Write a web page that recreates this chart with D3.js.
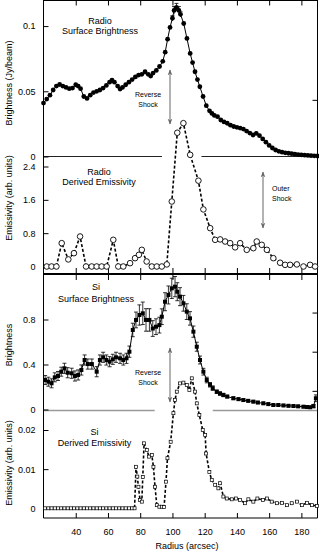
<!DOCTYPE html>
<html>
<head>
<meta charset="utf-8">
<script src="https://cdn.jsdelivr.net/npm/d3@7"></script>
<style>
  body { margin: 0; background: #fff; }
  svg { display: block; font-family: "Liberation Sans", Arial, Helvetica, sans-serif; }
  .tick text { font-size: 9px; fill: #000; }
</style>
</head>
<body>
<div id="chart"></div>
<script>
// radio surface brightness (Jy/beam)
const radioR = [20, 22, 24, 26, 28, 30, 32, 34, 36, 38, 40, 41.5, 43, 45, 47, 49, 51, 53, 55, 57, 59, 61, 62.5, 64, 66, 67.5, 69, 71, 73, 75, 77, 79, 81, 83, 85, 86.5, 88, 90, 92, 94, 95.5, 97, 98.5, 100, 101, 102.5, 104, 105, 107, 109, 111, 112.5, 114, 115.5, 117, 119, 121, 123, 124.5, 126, 128, 130, 132, 134, 136, 138, 140, 142, 144, 146, 148, 150, 152, 154, 156, 158, 160, 162, 164, 166, 168, 170, 172, 174, 176, 178, 180, 182, 184, 186, 188, 190];
const radioB = [0.041, 0.044, 0.047, 0.051, 0.054, 0.0552, 0.054, 0.053, 0.052, 0.0525, 0.055, 0.054, 0.052, 0.046, 0.0445, 0.047, 0.049, 0.050, 0.051, 0.0525, 0.0545, 0.057, 0.0586, 0.057, 0.054, 0.0517, 0.053, 0.055, 0.057, 0.059, 0.061, 0.0624, 0.063, 0.065, 0.063, 0.0617, 0.064, 0.066, 0.069, 0.073, 0.080, 0.090, 0.099, 0.106, 0.112, 0.1144, 0.112, 0.109, 0.102, 0.0905, 0.079, 0.072, 0.065, 0.059, 0.0535, 0.046, 0.039, 0.035, 0.033, 0.0315, 0.0305, 0.028, 0.0265, 0.0255, 0.024, 0.023, 0.0224, 0.0218, 0.021, 0.0195, 0.018, 0.0165, 0.0178, 0.016, 0.0135, 0.011, 0.0085, 0.0065, 0.005, 0.004, 0.0033, 0.0028, 0.0025, 0.0022, 0.0018, 0.0015, 0.0012, 0.001, 0.0008, 0.0006, 0.0005, 0.0004];
const radioErrR = [100, 101, 102.5, 104, 105];
const radioErr = [0.002, 0.003, 0.003, 0.003, 0.002];

// radio derived emissivity (arb. units)
const radioEmR = [22, 25, 28, 31.3, 35.4, 38.9, 42.7, 46.4, 49.9, 53, 56.1, 59.2, 63.3, 66.4, 69.5, 73.7, 76.8, 79.2, 81, 84, 87.2, 90.3, 93.4, 96.5, 99.6, 103, 106.8, 111, 116.1, 119.2, 123.4, 126.5, 129.6, 132.7, 135.8, 138.9, 142, 146.1, 150.2, 152.3, 155.4, 158.6, 162.6, 166.8, 169.9, 173, 177.2, 181.3, 185.4, 188.5];
const radioEm = [0, 0, 0, 0.56, 0.17, 0.32, 0.72, 0, 0, 0, 0, 0, 0.64, 0, 0, 0.08, 0.2, 0.28, 0.4, 0.12, 0, 0, 0, 0.05, 1.56, 3.21, 3.44, 2.68, 2.06, 1.37, 0.92, 0.64, 0.65, 0.6, 0.56, 0.46, 0.56, 0.4, 0.44, 0.6, 0.52, 0.4, 0.2, 0.09, 0.04, 0.04, 0.05, 0, 0.04, 0];

// Si surface brightness
const siR = [21, 23, 25, 27, 29, 31, 33, 35, 37.5, 39.5, 41.5, 43.5, 45.5, 47.5, 50, 53, 55, 57, 59, 61, 63, 65, 67.5, 69.5, 71.5, 73.3, 75.4, 77.4, 79.5, 81.6, 83.6, 85.7, 87.8, 89.8, 91.9, 93.4, 95.4, 97.5, 99.6, 101.6, 103, 104.7, 106.8, 108.9, 110.9, 113, 115.1, 117.1, 119.2, 121.3, 123.3, 125, 127.5, 129.5, 131.6, 134, 137.8, 141, 144, 147, 150.2, 153, 156.4, 159.5, 162.6, 165.7, 168.9, 172, 175.1, 178, 181.3, 183.5, 185.4, 187.5, 189];
const siB = [0.262, 0.247, 0.233, 0.286, 0.298, 0.336, 0.366, 0.327, 0.322, 0.298, 0.307, 0.351, 0.44, 0.404, 0.404, 0.336, 0.44, 0.464, 0.44, 0.425, 0.446, 0.464, 0.455, 0.44, 0.455, 0.514, 0.707, 0.796, 0.84, 0.855, 0.796, 0.796, 0.72, 0.736, 0.75, 0.825, 0.958, 1.018, 1.077, 1.092, 1.047, 1.003, 0.944, 0.87, 0.81, 0.692, 0.558, 0.44, 0.336, 0.262, 0.22, 0.19, 0.158, 0.142, 0.129, 0.115, 0.1, 0.092, 0.084, 0.077, 0.07, 0.062, 0.055, 0.048, 0.04, 0.04, 0.036, 0.033, 0.031, 0.028, 0.025, 0.022, 0.02, 0.03, 0.1];
const siErr = [0.04, 0.04, 0.04, 0.04, 0.04, 0.04, 0.045, 0.045, 0.045, 0.045, 0.045, 0.045, 0.045, 0.045, 0.045, 0.045, 0.045, 0.045, 0.045, 0.045, 0.045, 0.045, 0.045, 0.045, 0.045, 0.05, 0.06, 0.07, 0.09, 0.1, 0.1, 0.1, 0.07, 0.07, 0.07, 0.07, 0.08, 0.08, 0.09, 0.09, 0.08, 0.08, 0.07, 0.07, 0.06, 0.05, 0.04, 0.035, 0.03, 0.025, 0.02, 0.02, 0.015, 0.015, 0.015, 0.012, 0.012, 0.01, 0.01, 0.01, 0.01, 0.01, 0.01, 0.01, 0.01, 0.01, 0.01, 0.01, 0.01, 0.01, 0.01, 0.01, 0.01, 0.015, 0.03];

// Si derived emissivity (arb. units)
const siEmR = [21, 23, 25, 27, 29, 31, 33, 35, 37, 39, 41, 43, 45, 47, 49, 51, 53, 55, 57, 59, 61, 63, 65, 67, 69, 71, 73, 75, 76.5, 77.4, 78.2, 78.9, 79.9, 81, 81.6, 82.4, 84.1, 85.5, 87.2, 88.2, 89.2, 90.3, 91.9, 93.4, 94.8, 96, 96.9, 98.9, 100.6, 101.6, 102.7, 104.7, 106.8, 108.9, 110.5, 112, 114, 115.1, 116.7, 118.8, 120.3, 120.9, 122.9, 124.4, 126.5, 128.5, 129.6, 131.6, 133.7, 136.8, 139.5, 142, 145.1, 147.1, 150.2, 152.7, 156.1, 158.6, 161.6, 164.8, 167.9, 171, 174, 177.2, 180.3, 183.4, 186.5, 189.6];
const siEm = [0, 0, 0, 0, 0, 0, 0, 0, 0, 0, 0, 0, 0, 0, 0, 0, 0, 0, 0, 0, 0, 0, 0, 0, 0, 0, 0, 0, 0, 0.0106, 0.0081, 0.0055, 0.0021, 0.0017, 0.008, 0.0166, 0.0149, 0.0132, 0.0136, 0.0106, 0.0055, 0.0008, 0.0004, 0.0004, 0.0003, 0.0068, 0.0128, 0.017, 0.0243, 0.0277, 0.0298, 0.0319, 0.0321, 0.0315, 0.0302, 0.0332, 0.0298, 0.0268, 0.0238, 0.02, 0.0187, 0.014, 0.0093, 0.0072, 0.006, 0.0051, 0.0064, 0.003, 0.0025, 0.0023, 0.0025, 0.0021, 0.0013, 0.0023, 0.0017, 0.0025, 0.0021, 0.0025, 0.0017, 0.0013, 0.0014, 0.0008, 0.0013, 0.0017, 0.0008, 0.0014, 0.0008, 0.0006];

const xTicks = [40, 60, 80, 100, 120, 140, 160, 180];
const radioBTicks = [0, 0.05, 0.1];
const radioEmTicks = [0, 0.8, 1.6, 2.4];
const siBTicks = [0, 0.4, 0.8];
const siEmTicks = [0, 0.01, 0.02];

const W = 319, H = 554;
const plotLeft = 43.5, plotRight = 317.5, plotTop = 0.5, plotMid = 274, plotBottom = 518;

const svg = d3.select('#chart').append('svg')
  .attr('width', W)
  .attr('height', H);

const x = d3.scaleLinear().domain([20, 190]).range([plotLeft, plotRight]);
const yRadB = d3.scaleLinear().domain([0, 0.12]).range([156.5, 0]);
const yRadE = d3.scaleLinear().domain([0, 2.4]).range([266.5, 166.5]);
const ySiB = d3.scaleLinear().domain([0, 1.2]).range([409.5, 274.5]);
const ySiE = d3.scaleLinear().domain([0, 0.02]).range([508.3, 430]);

// zero lines with gaps where the emissivity peaks come through
const zeroLine = (y, segs, color, w) => {
  segs.forEach(s => {
    svg.append('line')
      .attr('x1', x(s[0])).attr('x2', x(s[1]))
      .attr('y1', y).attr('y2', y)
      .attr('stroke', color).attr('stroke-width', w);
  });
};
zeroLine(yRadB(0), [[20, 93.5], [118, 190]], '#222', 1);
zeroLine(ySiB(0) + 1, [[20, 89], [125, 190]], '#9a9a9a', 1.5);

// left axes
const leftAxis = (scale, vals) => {
  const g = svg.append('g')
    .attr('transform', `translate(${plotLeft},0)`)
    .call(d3.axisLeft(scale).tickValues(vals).tickSize(-5).tickSizeOuter(0).tickPadding(8).tickFormat(d => String(d)));
  g.select('.domain').remove();
  g.selectAll('.tick line').attr('stroke', '#000');
};
leftAxis(yRadB, radioBTicks);
leftAxis(yRadE, radioEmTicks);
leftAxis(ySiB, siBTicks);
leftAxis(ySiE, siEmTicks);

// right side ticks
[[yRadE, [4.0]], [ySiE, [0.03, 0.04, 0.05]]].forEach(([sc, vals]) => {
  const g = svg.append('g')
    .attr('transform', `translate(${plotRight},0)`)
    .call(d3.axisRight(sc).tickValues(vals).tickSize(-5).tickSizeOuter(0).tickFormat(''));
  g.select('.domain').remove();
});

// x ticks on every panel edge
const xt = (y, axisFn) => {
  const g = svg.append('g')
    .attr('transform', `translate(0,${y})`)
    .call(axisFn(x).tickValues(xTicks).tickSize(-5).tickSizeOuter(0).tickFormat(''));
  g.select('.domain').remove();
};
xt(plotTop, d3.axisTop);
xt(plotMid - 1, d3.axisBottom);
xt(plotMid + 1, d3.axisTop);

const xAxis = svg.append('g')
  .attr('transform', `translate(0,${plotBottom})`)
  .call(d3.axisBottom(x).tickValues(xTicks).tickSize(-5).tickSizeOuter(0).tickPadding(11));
xAxis.select('.domain').remove();

// frame
svg.append('line').attr('x1', plotLeft).attr('x2', plotLeft).attr('y1', 0).attr('y2', plotBottom).attr('stroke', '#000');
svg.append('line').attr('x1', plotRight).attr('x2', plotRight).attr('y1', 0).attr('y2', plotBottom).attr('stroke', '#000');
svg.append('line').attr('x1', plotLeft).attr('x2', plotRight).attr('y1', plotTop).attr('y2', plotTop).attr('stroke', '#000');
svg.append('line').attr('x1', plotLeft).attr('x2', plotRight).attr('y1', plotMid).attr('y2', plotMid).attr('stroke', '#000').attr('stroke-width', 2);
svg.append('line').attr('x1', plotLeft).attr('x2', plotRight).attr('y1', plotBottom).attr('y2', plotBottom).attr('stroke', '#000');

// ---- radio surface brightness
const radio = radioR.map((r, i) => ({ r, v: radioB[i] }));
svg.append('path')
  .datum(radio)
  .attr('fill', 'none').attr('stroke', '#000').attr('stroke-width', 1)
  .attr('d', d3.line().x(d => x(d.r)).y(d => yRadB(d.v)));
radioErrR.forEach((r, i) => {
  const v = radioB[radioR.indexOf(r)];
  const cx = x(r);
  svg.append('path')
    .attr('stroke', '#000').attr('fill', 'none').attr('stroke-width', 0.8)
    .attr('d', `M${cx},${yRadB(v - radioErr[i])}V${yRadB(v + radioErr[i])}M${cx - 2},${yRadB(v + radioErr[i])}H${cx + 2}`);
});
svg.selectAll('.rad-dot')
  .data(radio)
  .enter()
  .append('circle')
  .attr('class', 'rad-dot')
  .attr('cx', d => x(d.r)).attr('cy', d => yRadB(d.v))
  .attr('r', 2.4)
  .attr('fill', '#000');

// ---- radio emissivity
const radioE = radioEmR.map((r, i) => ({ r, v: radioEm[i] }));
svg.append('path')
  .datum(radioE)
  .attr('fill', 'none').attr('stroke', '#000').attr('stroke-width', 1.6)
  .attr('stroke-dasharray', '3,2')
  .attr('d', d3.line().x(d => x(d.r)).y(d => yRadE(d.v)));
svg.selectAll('.rad-em')
  .data(radioE)
  .enter()
  .append('circle')
  .attr('class', 'rad-em')
  .attr('cx', d => x(d.r)).attr('cy', d => yRadE(d.v))
  .attr('r', 2.8)
  .attr('fill', '#fff').attr('stroke', '#000').attr('stroke-width', 0.9);

// ---- Si surface brightness
const si = siR.map((r, i) => ({ r, v: siB[i], e: siErr[i] }));
svg.append('path')
  .datum(si)
  .attr('fill', 'none').attr('stroke', '#000').attr('stroke-width', 1)
  .attr('d', d3.line().x(d => x(d.r)).y(d => ySiB(d.v)));
svg.selectAll('.si-err')
  .data(si)
  .enter()
  .append('path')
  .attr('class', 'si-err')
  .attr('stroke', '#000').attr('fill', 'none').attr('stroke-width', 0.8)
  .attr('d', d => {
    const cx = x(d.r), y0 = ySiB(d.v - d.e), y1 = ySiB(d.v + d.e);
    return `M${cx},${y0}V${y1}M${cx - 2},${y0}H${cx + 2}M${cx - 2},${y1}H${cx + 2}`;
  });
svg.selectAll('.si-dot')
  .data(si)
  .enter()
  .append('rect')
  .attr('class', 'si-dot')
  .attr('x', d => x(d.r) - 2).attr('y', d => ySiB(d.v) - 2)
  .attr('width', 4).attr('height', 4)
  .attr('fill', '#000');

// ---- Si emissivity
const siE = siEmR.map((r, i) => ({ r, v: siEm[i] }));
svg.append('path')
  .datum(siE)
  .attr('fill', 'none').attr('stroke', '#000').attr('stroke-width', 1.6)
  .attr('stroke-dasharray', '3,2')
  .attr('d', d3.line().x(d => x(d.r)).y(d => ySiE(d.v)));
svg.selectAll('.si-em')
  .data(siE)
  .enter()
  .append('rect')
  .attr('class', 'si-em')
  .attr('x', d => x(d.r) - 1.5).attr('y', d => ySiE(d.v) - 1.5)
  .attr('width', 3).attr('height', 3)
  .attr('fill', '#fff').attr('stroke', '#000').attr('stroke-width', 0.7);

// ---- text
const label = (tx, ty, str, size, anchor) => {
  svg.append('text')
    .attr('x', tx).attr('y', ty)
    .attr('text-anchor', anchor || 'middle')
    .attr('font-size', size)
    .attr('fill', '#000')
    .text(str);
};
label(100, 23.5, 'Radio', 9);
label(100, 33.5, 'Surface Brightness', 9);
label(99, 175, 'Radio', 9);
label(99, 185, 'Derived Emissivity', 9);
label(96, 289.5, 'Si', 9);
label(96, 301.5, 'Surface Brightness', 9);
label(94.5, 435, 'Si', 9);
label(94.5, 446, 'Derived Emissivity', 9);

label(148, 96.5, 'Reverse', 7);
label(148, 106.5, 'Shock', 7);
label(148, 375, 'Reverse', 7);
label(148, 385, 'Shock', 7);
label(272, 190.5, 'Outer', 7, 'start');
label(272, 200.5, 'Shock', 7, 'start');

label(187, 549, 'Radius (arcsec)', 9);

const yLabel = (cy, str) => {
  svg.append('text')
    .attr('transform', `translate(12,${cy}) rotate(-90)`)
    .attr('text-anchor', 'middle')
    .attr('font-size', 9)
    .text(str);
};
yLabel(83, 'Brightness (Jy/beam)');
yLabel(198, 'Emissivity (arb. units)');
yLabel(345, 'Brightness');
yLabel(463, 'Emissivity (arb. units)');

// shock arrows
const defs = svg.append('defs');
defs.append('marker')
  .attr('id', 'head')
  .attr('viewBox', '0 0 10 10')
  .attr('refX', 9).attr('refY', 5)
  .attr('markerWidth', 6).attr('markerHeight', 6)
  .attr('orient', 'auto-start-reverse')
  .append('path')
  .attr('d', 'M0,1L10,5L0,9L3,5Z')
  .attr('fill', '#666');
const arrow = (ax, y1, y2) => {
  svg.append('line')
    .attr('x1', ax).attr('x2', ax).attr('y1', y1).attr('y2', y2)
    .attr('stroke', '#666').attr('stroke-width', 1)
    .attr('marker-start', 'url(#head)').attr('marker-end', 'url(#head)');
};
arrow(170, 70, 124);
arrow(170, 348, 402);
arrow(263, 172, 228);
</script>
</body>
</html>
